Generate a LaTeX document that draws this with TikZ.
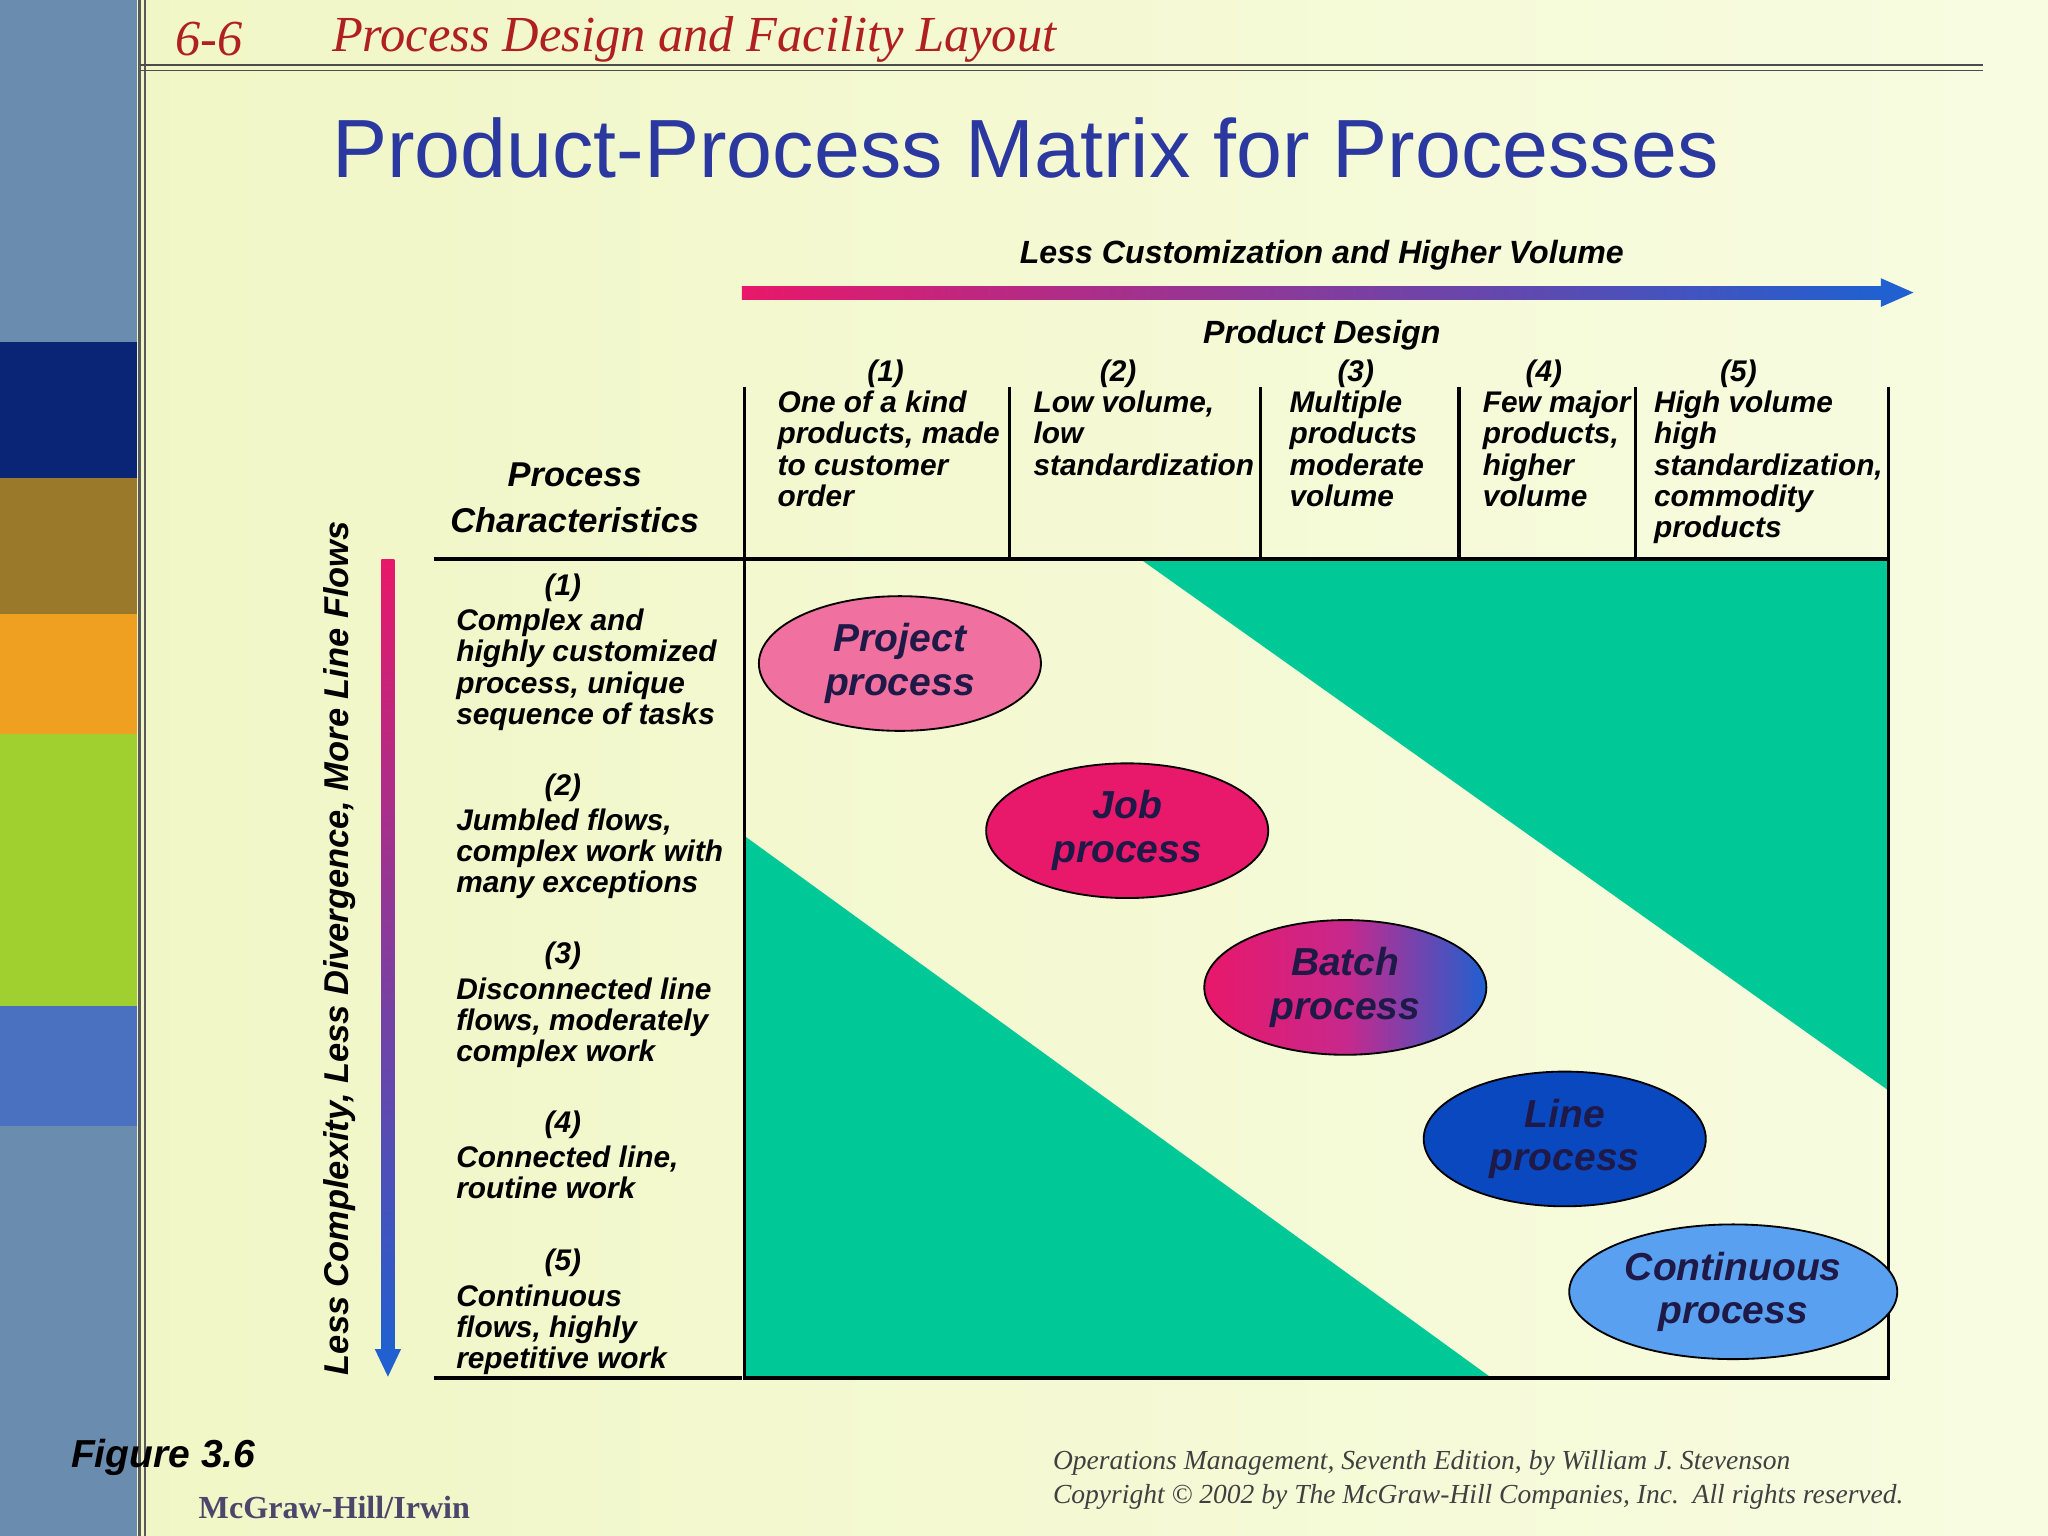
\documentclass[tikz,border=0pt]{standalone}
\usepackage{fontspec}
\setmainfont{Liberation Sans}
\newfontfamily\serifface{Liberation Serif}
\usetikzlibrary{shapes.geometric}
\definecolor{bgyel}{RGB}{240,246,196}
\definecolor{bglight}{RGB}{248,252,225}
\definecolor{titleblue}{RGB}{42,56,160}
\definecolor{hdrred}{RGB}{176,32,32}
\definecolor{mgreen}{RGB}{0,200,150}
\definecolor{arpink}{RGB}{232,24,106}
\definecolor{arblue}{RGB}{32,96,208}
\definecolor{slate}{RGB}{106,140,175}
\definecolor{navy}{RGB}{10,37,117}
\definecolor{olive}{RGB}{154,122,42}
\definecolor{orng}{RGB}{240,160,32}
\definecolor{lime}{RGB}{160,208,48}
\definecolor{midblue}{RGB}{74,112,192}
\definecolor{txtdark}{RGB}{30,25,70}
\tikzset{
  body/.style={font=\fontsize{13}{13.6}\selectfont\bfseries\itshape, align=left, anchor=north west, inner sep=0pt},
  num/.style={font=\fontsize{13}{13.6}\selectfont\bfseries\itshape, inner sep=0pt},
  proc/.style={ellipse, draw=black, thick, minimum width=4.32cm, minimum height=2cm, align=center,
    font=\fontsize{17}{19}\selectfont\bfseries\itshape, text=txtdark}
}
\begin{document}
\begin{tikzpicture}[x=0.02cm, y=-0.02cm]
  \useasboundingbox (0,0) rectangle (1568,1176);
  \shade[left color=bgyel, right color=bglight] (0,0) rectangle (1568,1176);

  % left bar
  \fill[slate] (0,0) rectangle (105,262);
  \fill[navy] (0,262) rectangle (105,366);
  \fill[olive] (0,366) rectangle (105,470);
  \fill[orng] (0,470) rectangle (105,562);
  \fill[lime] (0,562) rectangle (105,770);
  \fill[midblue] (0,770) rectangle (105,862);
  \fill[slate] (0,862) rectangle (105,1176);
  \draw[gray!70!black, line width=1.2pt] (107,0) -- (107,1176);
  \draw[gray!70!black, line width=0.6pt] (111,0) -- (111,1176);

  % header
  \node[font=\serifface\itshape\fontsize{22}{24}\selectfont, text=hdrred, anchor=west] (hnum) at (128,30) {6-6};
  \node[font=\serifface\itshape\fontsize{22}{24}\selectfont, text=hdrred, anchor=west] (htitle) at (248,30) {Process Design and Facility Layout};
  \draw[gray!60!black, line width=1pt] (107,50) -- (1518,50);
  \draw[gray!60!black, line width=0.6pt] (107,54) -- (1518,54);
  \node[font=\fontsize{36}{40}\selectfont, text=titleblue] (title) at (785,113) {Product-Process Matrix for Processes};

  % top arrow
  \node[num, font=\fontsize{14}{16}\selectfont\bfseries\itshape] (custom) at (1012,195) {Less Customization and Higher Volume};
  \coordinate (tl) at (568,224);
  \coordinate (tr) at (1465,224);
  \shade[left color=arpink, right color=arblue] (568,219) rectangle (1442,229);
  \fill[arblue] (1440,213) -- (tr) -- (1440,235) -- cycle;
  \node[num, font=\fontsize{14}{16}\selectfont\bfseries\itshape] (pdes) at (1012,257) {Product Design};

  % green regions
  \fill[mgreen] (873,428) -- (1446,428) -- (1446,835) -- cycle;
  \fill[mgreen] (570,640) -- (570,1055) -- (1142,1055) -- cycle;

  % grid
  \foreach \x in {570,773,965,1117,1252,1446}
    \draw[line width=1.4pt] (\x,296) -- (\x,428);
  \draw[line width=1.4pt] (332,428) -- (1446,428);
  \draw[line width=1.4pt] (570,428) -- (570,1055) -- (1446,1055) -- (1446,428);
  \draw[line width=1.4pt] (332,1055) -- (568,1055);

  % column headings
  \node[num] (c1n) at (678,286) {(1)};
  \node[body] (c1) at (595,299) {One of a kind\\products, made\\to customer\\order};
  \node[num] (c2n) at (856,286) {(2)};
  \node[body] (c2) at (791,299) {Low volume,\\low\\standardization};
  \node[num] (c3n) at (1038,286) {(3)};
  \node[body] (c3) at (987,299) {Multiple\\products\\moderate\\volume};
  \node[num] (c4n) at (1182,286) {(4)};
  \node[body] (c4) at (1135,299) {Few major\\products,\\higher\\volume};
  \node[num] (c5n) at (1331,286) {(5)};
  \node[body] (c5) at (1266,299) {High volume\\high\\standardization,\\commodity\\products};

  % row headings
  \node[num, font=\fontsize{15}{20}\selectfont\bfseries\itshape, align=center] (pchar) at (440,381) {Process\\Characteristics};
  \node[num] (r1n) at (431,450) {(1)};
  \node[body] (r1) at (349,466) {Complex and\\highly customized\\process, unique\\sequence of tasks};
  \node[num] (r2n) at (431,603) {(2)};
  \node[body] (r2) at (349,619) {Jumbled flows,\\complex work with\\many exceptions};
  \node[num] (r3n) at (431,732) {(3)};
  \node[body] (r3) at (349,748) {Disconnected line\\flows, moderately\\complex work};
  \node[num] (r4n) at (431,861) {(4)};
  \node[body] (r4) at (349,877) {Connected line,\\routine work};
  \node[num] (r5n) at (431,967) {(5)};
  \node[body] (r5) at (349,983) {Continuous\\flows, highly\\repetitive work};

  % side arrow
  \shade[top color=arpink, bottom color=arblue] (292,428) rectangle (302,1035);
  \fill[arblue] (287,1033) -- (297,1054) -- (307,1033) -- cycle;
  \node[num, font=\fontsize{15}{17}\selectfont\bfseries\itshape, rotate=90] (cmplx) at (260,726) {Less Complexity, Less Divergence, More Line Flows};

  % processes
  \node[proc, fill={rgb,255:red,240;green,112;blue,160}] (proj) at (689,508) {Project\\process};
  \node[proc, fill=arpink] (job) at (863,636) {Job\\process};
  \node[proc, left color=arpink, right color=arblue, middle color={rgb,255:red,200;green,40;blue,140}] (batch) at (1030,756) {Batch\\process};
  \node[proc, fill={rgb,255:red,10;green,72;blue,192}] (line) at (1198,872) {Line\\process};
  \node[proc, fill={rgb,255:red,90;green,160;blue,240}] (cont) at (1327,989) {Continuous\\process};

  % footer
  \node[font=\fontsize{17}{19}\selectfont\bfseries\itshape] (fig) at (125,1116) {Figure 3.6};
  \node[font=\serifface\bfseries\fontsize{14}{16}\selectfont, text=txtdark!80] (mcg) at (256,1154) {McGraw-Hill/Irwin};
  \node[font=\serifface\itshape\fontsize{12}{14}\selectfont, text=gray!50!black, anchor=west] (ft1) at (800,1120) {Operations Management, Seventh Edition, by William J. Stevenson};
  \node[font=\serifface\itshape\fontsize{12}{14}\selectfont, text=gray!50!black, anchor=west] (ft2) at (800,1146) {Copyright © 2002 by The McGraw-Hill Companies, Inc.\ \ All rights reserved.};
\end{tikzpicture}
\end{document}
